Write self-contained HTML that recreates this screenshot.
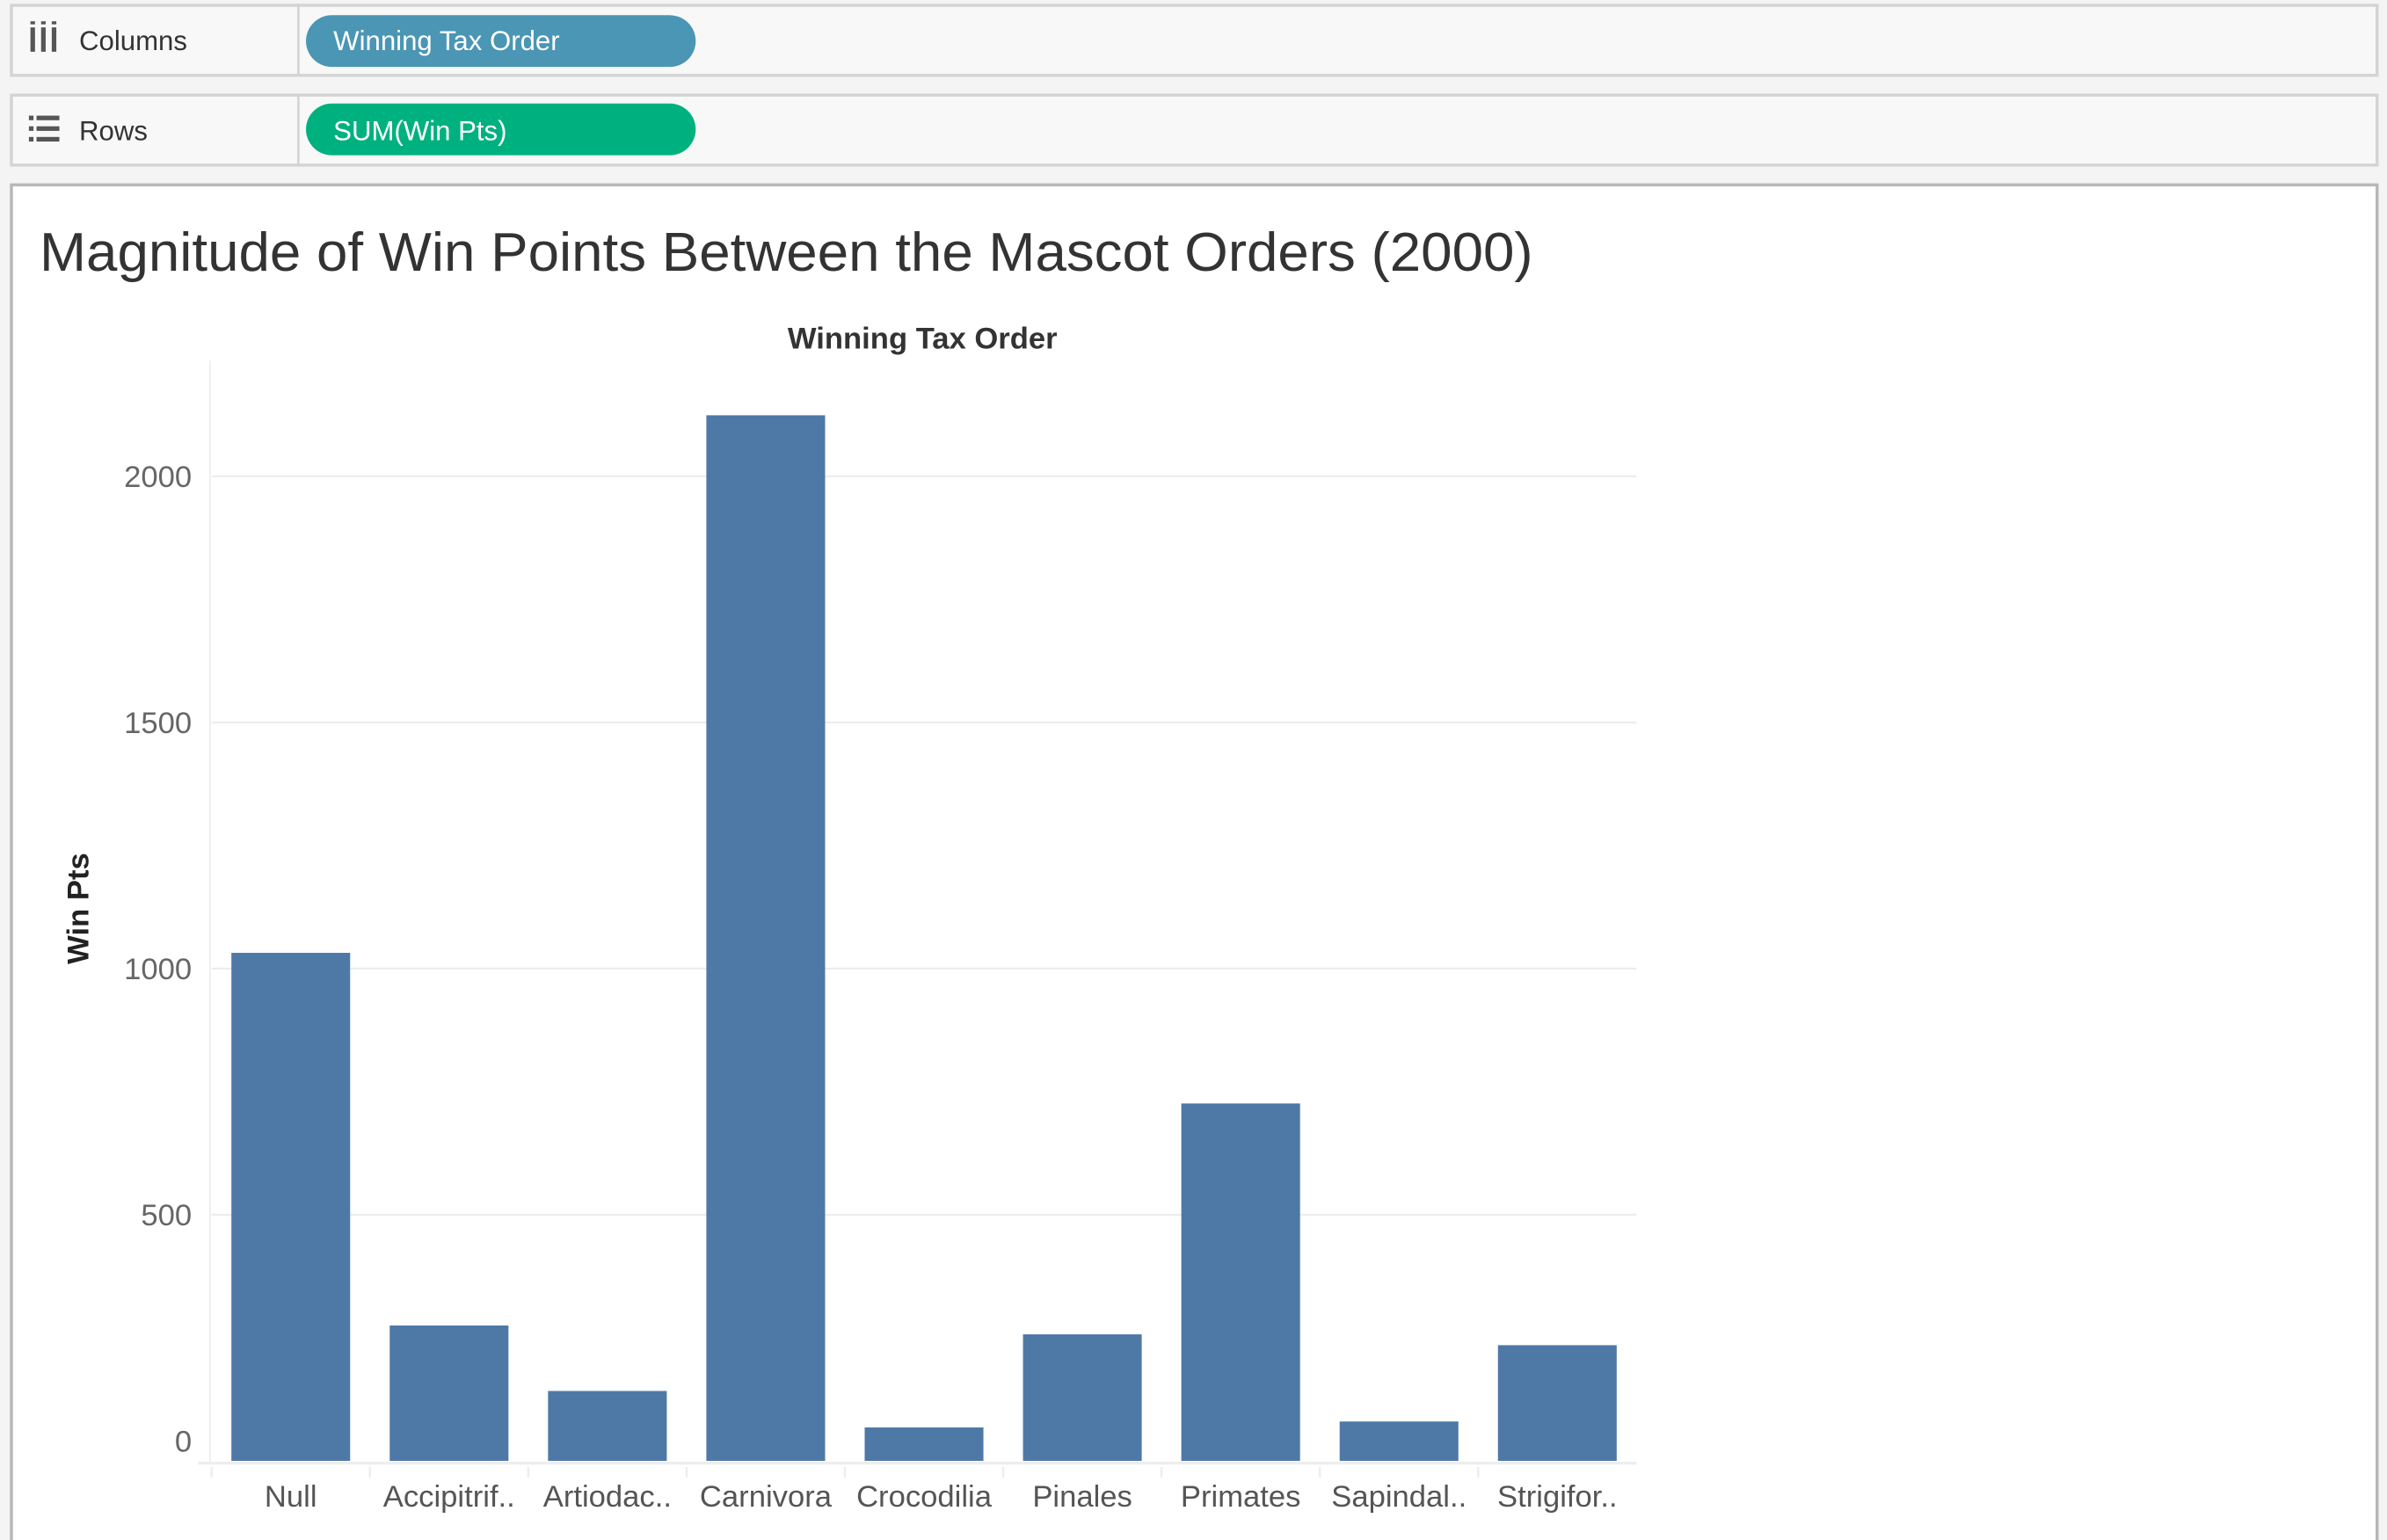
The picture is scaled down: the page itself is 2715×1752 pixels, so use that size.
<!DOCTYPE html>
<html><head><meta charset="utf-8"><style>
html,body{margin:0;padding:0;background:#f4f4f4;width:2715px;height:1752px;overflow:hidden}
svg{display:block;font-family:"Liberation Sans",sans-serif}
</style></head><body>
<svg width="2715" height="1752" viewBox="0 0 1568 1012" preserveAspectRatio="none">
<rect x="0" y="0" width="1568" height="1012" fill="#f4f4f4"/>
<g>
<rect x="7.5" y="3.5" width="1554" height="46" fill="#f8f8f8" stroke="#d4d4d4" stroke-width="2"/>
<line x1="196" y1="4" x2="196" y2="49" stroke="#d4d4d4" stroke-width="1.5"/>
<g fill="#555"><rect x="20" y="18" width="3" height="16"/><rect x="27" y="18" width="3" height="16"/><rect x="34" y="18" width="3" height="16"/><rect x="20" y="14" width="3" height="2"/><rect x="27" y="14" width="3" height="2"/><rect x="34" y="14" width="3" height="2"/></g>
<text x="52" y="33" font-size="18" fill="#333">Columns</text>
<rect x="201" y="10" width="256" height="34" rx="17" fill="#4a96b4"/>
<text x="219" y="33" font-size="18" fill="#fff">Winning Tax Order</text>
</g>
<g>
<rect x="7.5" y="62.5" width="1554" height="46" fill="#f8f8f8" stroke="#d4d4d4" stroke-width="2"/>
<line x1="196" y1="63" x2="196" y2="108" stroke="#d4d4d4" stroke-width="1.5"/>
<g fill="#555"><rect x="19" y="76" width="3" height="3"/><rect x="24" y="76" width="15" height="3"/><rect x="19" y="83" width="3" height="3"/><rect x="24" y="83" width="15" height="3"/><rect x="19" y="90" width="3" height="3"/><rect x="24" y="90" width="15" height="3"/></g>
<text x="52" y="92" font-size="18" fill="#333">Rows</text>
<rect x="201" y="68" width="256" height="34" rx="17" fill="#00b180"/>
<text x="219" y="92" font-size="18" fill="#fff">SUM(Win Pts)</text>
</g>
<rect x="7.5" y="121.5" width="1554" height="900" fill="#fff" stroke="#b8b8b8" stroke-width="2"/>
<text x="26" y="178" font-size="36" fill="#333" textLength="981" lengthAdjust="spacingAndGlyphs">Magnitude of Win Points Between the Mascot Orders (2000)</text>
<text x="606" y="229" font-size="20" font-weight="bold" fill="#333" text-anchor="middle">Winning Tax Order</text>
<text transform="translate(58,597) rotate(-90)" font-size="20" font-weight="bold" fill="#222" text-anchor="middle">Win Pts</text>
<g id="plot"></g>
</svg>
<script>
const categories = ["Null","Accipitrif..","Artiodac..","Carnivora","Crocodilia","Pinales","Primates","Sapindal..","Strigifor.."];
const winPts = [1032, 275, 142, 2124, 68, 257, 726, 80, 235];
const yTicks = [0, 500, 1000, 1500, 2000];
const NS = "http://www.w3.org/2000/svg";
const plot = document.getElementById('plot');
const x0 = 139, colW = 104, barW = 78, yZero = 960, pxPerUnit = (960 - 313) / 2000;
const yScale = v => yZero - v * pxPerUnit;
const xCenter = i => x0 + colW * i + colW / 2;
function mk(tag, attrs) { const e = document.createElementNS(NS, tag); for (const k in attrs) e.setAttribute(k, attrs[k]); plot.appendChild(e); return e; }
mk('line', {x1: 138, y1: 237, x2: 138, y2: 962, stroke: '#eee', 'stroke-width': 1});
yTicks.forEach(t => {
  if (t > 0) {
    const g = mk('line', {x1: 139, y1: yScale(t), x2: 1075, y2: yScale(t), stroke: '#ececec', 'stroke-width': 1.2});
    
    
  }
  const tx = mk('text', {x: 126, y: yScale(t) + 7 - (t === 0 ? 13 : 0), 'font-size': 20, fill: '#666', 'text-anchor': 'end'});
  tx.textContent = t;
  
  
});
categories.forEach((c, i) => {
  const r = mk('rect', {x: xCenter(i) - barW / 2, y: yScale(winPts[i]), width: barW, height: yZero - yScale(winPts[i]), fill: '#4e79a7'});
  
  
  const tk = mk('line', {x1: x0 + colW * i, y1: 964, x2: x0 + colW * i, y2: 971, stroke: '#eee', 'stroke-width': 1.5});
  
  
  const l = mk('text', {x: xCenter(i), y: 990, 'font-size': 20, fill: '#555', 'text-anchor': 'middle'});
  l.textContent = c;
  
  
});
const ax = mk('line', {x1: 130, y1: 961.5, x2: 1075, y2: 961.5, stroke: '#eee', 'stroke-width': 2});


</script>
</body></html>
